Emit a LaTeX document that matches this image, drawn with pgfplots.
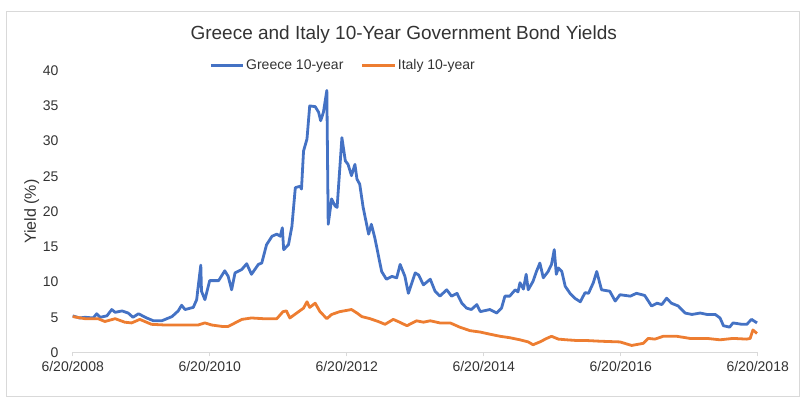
\documentclass[border=0pt]{standalone}
\usepackage{fontspec}
\setmainfont{Liberation Sans}
\usepackage{pgfplots}
\pgfplotsset{compat=1.18}
\definecolor{greece}{HTML}{4472C4}
\definecolor{italy}{HTML}{ED7D31}
\definecolor{framegray}{HTML}{D9D9D9}
\begin{document}
\begin{tikzpicture}
\path[use as bounding box] (0pt,0pt) rectangle (809pt,414pt);
\draw[framegray, line width=1pt] (6.5pt,17.5pt) rectangle (799pt,402.3pt);
\node[font=\fontsize{19}{22}\selectfont, text=black!80] at (403.7pt,379.7pt) {Greece and Italy 10-Year Government Bond Yields};
\begin{axis}[
  at={(72.7pt,61.5pt)}, anchor=south west,
  scale only axis, width=685pt, height=281.8pt,
  xmin=0, xmax=10, ymin=0, ymax=40,
  clip=false,
  axis x line*=bottom, axis y line*=left,
  y axis line style={draw=none},
  x axis line style={draw=framegray, line width=0.8pt},
  xtick={0,2,4,6,8,10},
  xticklabels={6/20/2008,6/20/2010,6/20/2012,6/20/2014,6/20/2016,6/20/2018},
  ytick={0,5,...,40},
  ytick style={draw=none},
  xtick style={draw=framegray, line width=0.8pt},
  tick align=outside, major tick length=4pt,
  tick label style={font=\fontsize{14}{16}\selectfont, text=black!80},
  /pgf/number format/assume math mode=true,
  yticklabel style={inner sep=0pt, xshift=-10pt},
  xticklabel style={inner sep=0pt, yshift=-5pt},
  ylabel={Yield (\%)},
  ylabel style={at={(axis description cs:-0.0599,0.5)}, anchor=center, font=\fontsize{16}{18}\selectfont, text=black!80},
  no markers,
  legend columns=2,
  legend style={at={(axis description cs:0.1994,1.0178)}, anchor=west, draw=none, fill=none, inner sep=0pt, outer sep=0pt, font=\fontsize{14}{16}\selectfont, text=black!80, nodes={inner sep=1.5pt}, /tikz/every even column/.append style={column sep=16pt}},
  legend image code/.code={\draw[#1, line width=3pt] (0pt,0pt) -- (32.4pt,0pt);},
]
\addplot[greece, line width=2.8pt, line join=round] coordinates {
(0,5.2)(0.1,4.9)(0.18,5.0)(0.3,4.9)(0.35,5.5)(0.40,5.0)(0.5,5.2)(0.57,6.1)(0.62,5.7)(0.72,5.9)(0.81,5.6)(0.88,5.0)(0.96,5.5)(1.08,4.9)(1.18,4.5)(1.30,4.5)(1.45,5.1)(1.54,5.9)(1.59,6.7)(1.64,6.1)(1.76,6.4)(1.81,7.5)(1.83,9.2)(1.87,12.4)(1.88,8.7)(1.93,7.5)(2.00,10.2)(2.13,10.2)(2.22,11.6)(2.27,10.8)(2.32,8.9)(2.37,11.3)(2.47,11.8)(2.54,12.6)(2.61,11.1)(2.71,12.5)(2.76,12.7)(2.83,15.3)(2.91,16.5)(2.98,16.8)(3.03,16.5)(3.06,17.7)(3.08,14.6)(3.15,15.3)(3.20,17.9)(3.25,23.4)(3.32,23.6)(3.34,23.2)(3.37,28.6)(3.42,30.3)(3.46,35.0)(3.54,34.9)(3.59,34.1)(3.62,32.9)(3.66,34.1)(3.71,37.2)(3.73,18.2)(3.78,21.8)(3.83,20.8)(3.86,20.6)(3.93,30.5)(3.98,27.2)(4.02,26.7)(4.07,25.1)(4.12,26.7)(4.15,24.6)(4.19,23.9)(4.24,20.6)(4.32,16.8)(4.36,18.2)(4.41,16.3)(4.46,13.9)(4.51,11.5)(4.58,10.4)(4.66,10.8)(4.73,10.6)(4.78,12.5)(4.85,10.8)(4.90,8.4)(5.00,11.3)(5.05,11.0)(5.12,9.6)(5.22,10.4)(5.29,8.7)(5.36,8.0)(5.46,8.9)(5.53,8.0)(5.61,8.4)(5.68,7.0)(5.75,6.3)(5.82,6.1)(5.90,6.8)(5.95,5.8)(6.09,6.1)(6.19,5.6)(6.26,6.3)(6.31,8.0)(6.38,8.0)(6.46,8.9)(6.50,8.6)(6.53,9.9)(6.58,9.0)(6.62,11.1)(6.65,8.9)(6.72,10.1)(6.77,11.5)(6.82,12.7)(6.87,10.6)(6.94,11.5)(6.99,12.5)(7.03,14.6)(7.06,11.1)(7.09,12.0)(7.14,11.5)(7.19,9.4)(7.26,8.4)(7.33,7.7)(7.41,7.2)(7.48,8.5)(7.53,8.4)(7.60,9.9)(7.65,11.5)(7.72,8.9)(7.84,8.7)(7.92,7.3)(7.99,8.2)(8.14,8.0)(8.23,8.4)(8.35,8.1)(8.45,6.6)(8.53,7.0)(8.60,6.8)(8.67,7.7)(8.74,7.0)(8.84,6.6)(8.94,5.6)(9.04,5.4)(9.16,5.6)(9.26,5.4)(9.38,5.4)(9.45,4.9)(9.50,3.8)(9.59,3.6)(9.64,4.2)(9.77,4.0)(9.84,4.0)(9.91,4.7)(9.99,4.2)
};
\addlegendentry{Greece 10-year}
\addplot[italy, line width=2.8pt, line join=round] coordinates {
(0,5.1)(0.18,4.8)(0.37,4.8)(0.47,4.4)(0.62,4.8)(0.76,4.3)(0.86,4.2)(0.98,4.7)(1.15,4.0)(1.35,3.9)(1.59,3.9)(1.83,3.9)(1.93,4.2)(2.03,3.9)(2.18,3.7)(2.27,3.7)(2.37,4.2)(2.47,4.7)(2.61,4.9)(2.78,4.8)(2.98,4.8)(3.07,5.8)(3.12,5.9)(3.17,4.9)(3.27,5.6)(3.37,6.3)(3.42,7.2)(3.46,6.4)(3.54,7.0)(3.61,5.8)(3.71,4.8)(3.78,5.4)(3.90,5.8)(4.07,6.1)(4.15,5.6)(4.22,5.1)(4.34,4.8)(4.46,4.4)(4.56,4.0)(4.68,4.7)(4.75,4.4)(4.88,3.8)(5.02,4.5)(5.12,4.3)(5.22,4.5)(5.36,4.2)(5.51,4.2)(5.65,3.6)(5.80,3.1)(5.95,2.9)(6.09,2.6)(6.24,2.3)(6.38,2.1)(6.53,1.8)(6.65,1.5)(6.72,1.1)(6.82,1.5)(6.92,2.0)(6.99,2.3)(7.09,1.9)(7.21,1.8)(7.36,1.7)(7.50,1.7)(7.70,1.6)(7.99,1.5)(8.16,1.0)(8.33,1.3)(8.40,2.0)(8.50,1.9)(8.62,2.3)(8.82,2.3)(9.01,2.0)(9.26,2.0)(9.45,1.8)(9.64,2.0)(9.84,1.9)(9.89,2.0)(9.93,3.2)(9.99,2.7)
};
\addlegendentry{Italy 10-year}
\end{axis}
\end{tikzpicture}
\end{document}
